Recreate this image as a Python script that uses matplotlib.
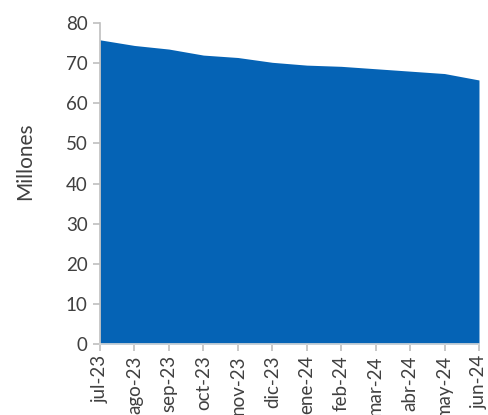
import matplotlib
matplotlib.use("Agg")
import matplotlib.pyplot as plt

months = ["jul-23", "ago-23", "sep-23", "oct-23", "nov-23", "dic-23",
          "ene-24", "feb-24", "mar-24", "abr-24", "may-24", "jun-24"]
values = [75.8, 74.4, 73.5, 72.0, 71.4, 70.2, 69.5, 69.2, 68.6, 68.0, 67.4, 65.8]
yticks = [0, 10, 20, 30, 40, 50, 60, 70, 80]

plt.rcParams['font.family'] = ['Lato', 'DejaVu Sans']
text_color = "#404040"
fig = plt.figure(figsize=(4.89, 4.15), dpi=100)
ax = fig.add_axes([0.2045, 0.171, 0.775, 0.7736])
x = list(range(len(months)))
ax.fill_between(x, values, 0, color="#0563b5", linewidth=0)
ax.set_xlim(0, len(months) - 1)
ax.set_ylim(0, 80)
ax.set_yticks(yticks)
ax.set_xticks(x)
ax.set_xticklabels(months, rotation=90)
ax.tick_params(axis='both', colors="#bfbfbf", labelcolor=text_color, labelsize=13.5, length=5, width=1.2)
ax.tick_params(axis='y', pad=4)
ax.tick_params(axis='x', pad=3)
for s in ["top", "right"]:
    ax.spines[s].set_visible(False)
ax.spines["left"].set_color("#bfbfbf")
ax.spines["bottom"].set_color("#d9d9d9")
ax.spines["left"].set_linewidth(1.2)
ax.spines["bottom"].set_linewidth(1.2)
fig.text(25 / 489, 1 - 161 / 415, "Millones", rotation=90, ha="center", va="center",
         fontsize=15, color=text_color)
fig.savefig("out.png", dpi=100)
